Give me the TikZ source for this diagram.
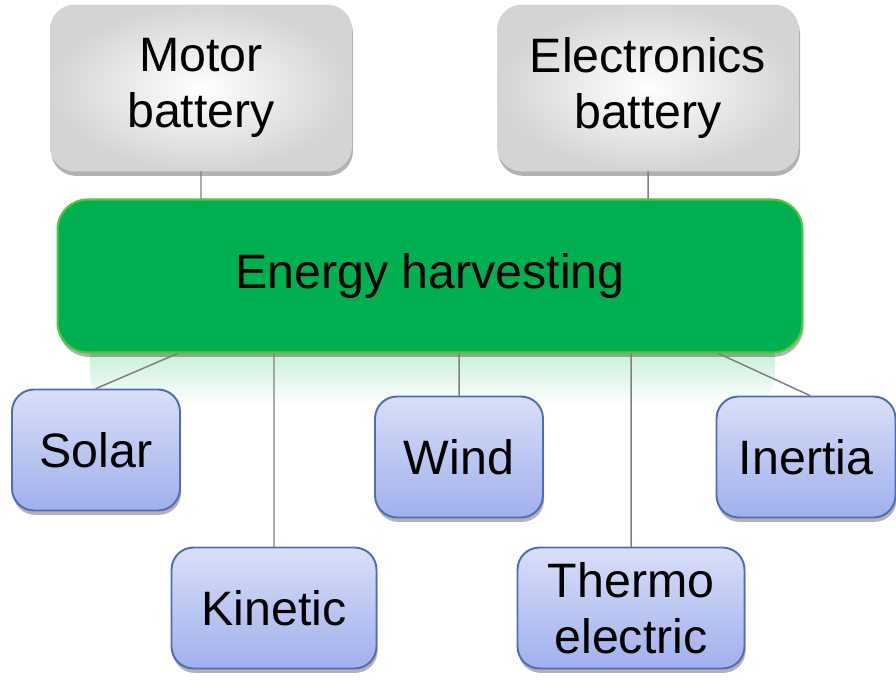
\documentclass[tikz,border=0pt]{standalone}
\usepackage{fontspec}
\setmainfont{Liberation Sans}
\usetikzlibrary{shadows,calc,fadings,positioning}
\definecolor{harvestgreen}{HTML}{00B050}
\definecolor{harvestrim}{HTML}{4CC83A}
\definecolor{leaftop}{HTML}{D8DFF8}
\definecolor{leafbottom}{HTML}{A0B0EC}
\definecolor{leafrim}{HTML}{4F6CB5}
\definecolor{wire}{HTML}{808080}
\tikzset{
  softshadow/.style={drop shadow={shadow xshift=0.6pt, shadow yshift=-2.5pt, opacity=0.3, fill=black}},
  battbox/.style={rounded corners=0.5cm, inner color=white, outer color=black!17,
    minimum width=6.04cm, minimum height=3.34cm, align=center, softshadow},
  harvestbox/.style={rounded corners=0.6cm, fill=harvestgreen, draw=harvestrim, line width=1.2pt,
    minimum width=14.9cm, minimum height=3.06cm, softshadow},
  leafbox/.style={rounded corners=0.44cm, top color=leaftop, bottom color=leafbottom,
    draw=leafrim, line width=1.1pt, minimum height=2.42cm, align=center, softshadow},
  wireline/.style={draw=wire, line width=0.85pt}
}
\begin{document}
\begin{tikzpicture}[x=0.02cm, y=-0.02cm, line join=round, line cap=round,
    font=\fontsize{27.5pt}{32pt}\selectfont]
    \useasboundingbox (0,0) rectangle (896,696);
    % glow under the main box
    \fill[harvestgreen!30, path fading=south, rounded corners=0.6cm] (90,330) rectangle (775,405);
    \node[battbox] (motor) at (201,88) {Motor\\battery};
    \node[battbox] (elec) at (648,88) {Electronics\\battery};
    \node[harvestbox] (harvest) at (430,276) {Energy harvesting};
    \foreach \nm/\px/\py/\w/\txt in {solar/96/450/3.36/Solar, kinetic/274/608/4.1/Kinetic,
        wind/459/457/3.36/Wind, thermo/631/608/4.54/{Thermo\\electric}, inertia/806/457/3.58/Inertia}
      \node[leafbox, minimum width=\w cm] (\nm) at (\px,\py) {\txt};
    \draw[wireline] (motor.south) -- (motor.south |- harvest.north)
      (elec.south) -- (elec.south |- harvest.north)
      ($(harvest.south west)+(121,0)$) -- (solar.north)
      (kinetic.north) -- (kinetic.north |- harvest.south)
      (wind.north) -- (wind.north |- harvest.south)
      (thermo.north) -- (thermo.north |- harvest.south)
      ($(harvest.south east)+(-85,0)$) -- ($(inertia.north)+(4,0)$);
\end{tikzpicture}
\end{document}
